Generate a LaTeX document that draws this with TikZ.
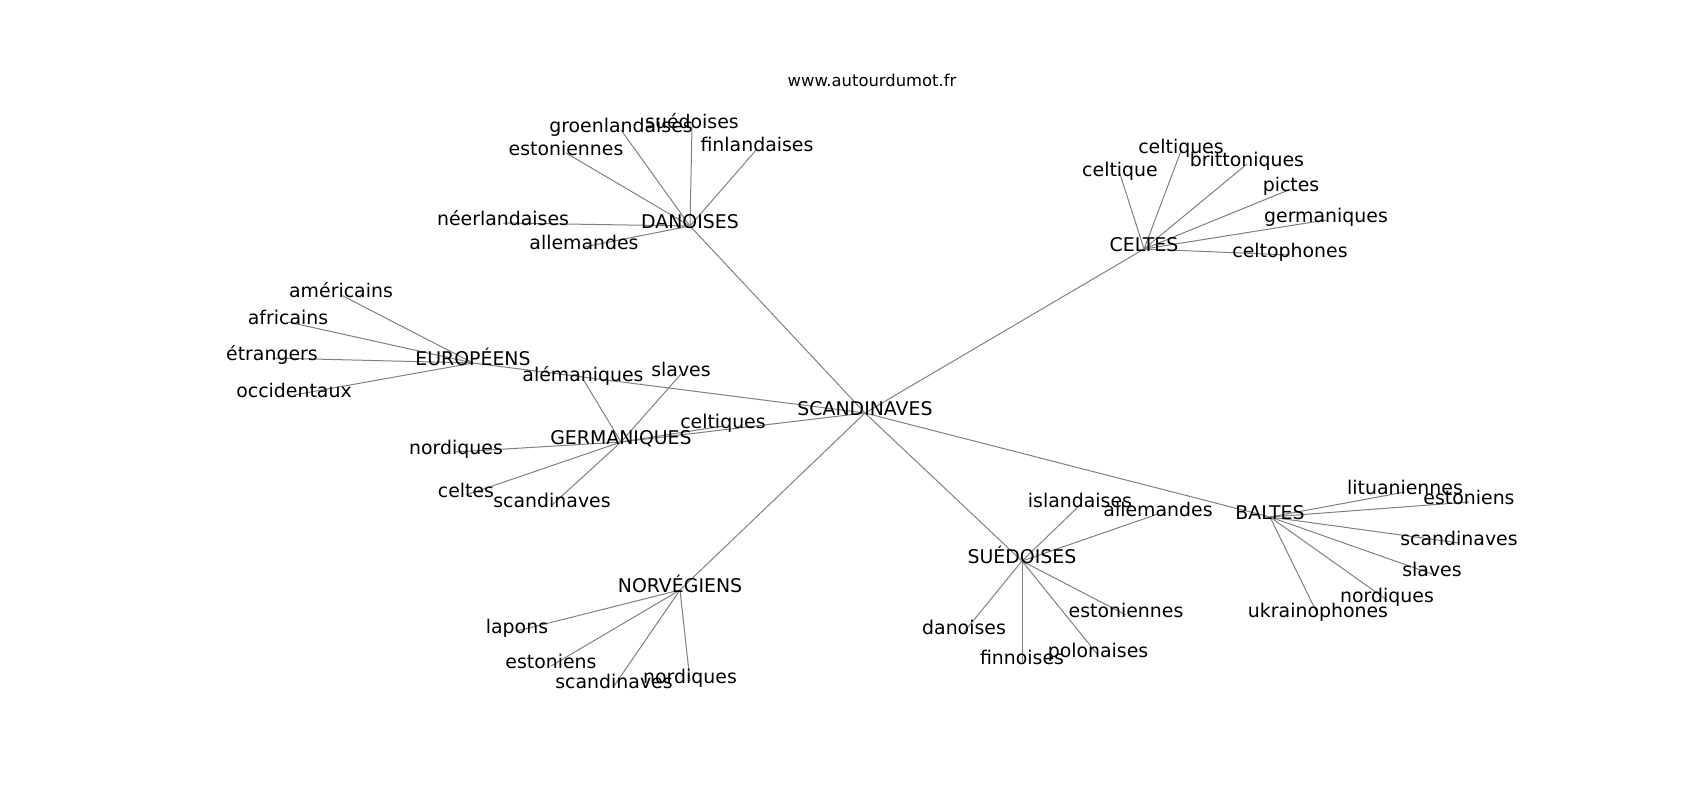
\documentclass[tikz,border=0pt]{standalone}
\usepackage{fontspec}
\setmainfont{DejaVu Sans}
\usetikzlibrary{backgrounds}

\begin{document}
\begin{tikzpicture}[x=1pt, y=-1pt,
    every node/.style={font=\fontsize{18.9}{22}\selectfont, inner sep=0pt, text height=0.47em, text depth=0pt},
    edge/.style={draw=black!50, line width=1pt}]
    \useasboundingbox (0,0) rectangle (1700,800);

    % Title
    \node[font=\fontsize{16.4}{20}\selectfont, text height=0.73em] (title) at (872,83) {www.autourdumot.fr};

    \begin{scope}[shift={(0,2)}]
    % Centre
    \node (scan) at (865,411) {SCANDINAVES};

    % Danoises
    \node (dan) at (690,224) {DANOISES};
    \node (groen) at (621,128) {groenlandaises};
    \node (suedD) at (692,124) {suédoises};
    \node (finl) at (757,147) {finlandaises};
    \node (estD) at (566,151) {estoniennes};
    \node (neer) at (503,221) {néerlandaises};
    \node (allD) at (584,245) {allemandes};

    % Celtes
    \node (celt) at (1144,247) {CELTES};
    \node (celtqs) at (1181,149) {celtiques};
    \node (britt) at (1247,162) {brittoniques};
    \node (celtq) at (1120,172) {celtique};
    \node (pict) at (1291,187) {pictes};
    \node (germC) at (1326,218) {germaniques};
    \node (celtph) at (1290,253) {celtophones};

    % Europeens
    \node (euro) at (473,361) {EUROPÉENS};
    \node (amer) at (341,293) {américains};
    \node (afri) at (288,320) {africains};
    \node (etr) at (272,356) {étrangers};
    \node (occ) at (294,393) {occidentaux};

    % Germaniques
    \node (germ) at (621,440) {GERMANIQUES};
    \node (alem) at (583,377) {alémaniques};
    \node (slavG) at (681,372) {slaves};
    \node (celtG) at (723,424) {celtiques};
    \node (nordG) at (456,450) {nordiques};
    \node (celtsG) at (466,493) {celtes};
    \node (scanG) at (552,503) {scandinaves};

    % Norvegiens
    \node (norv) at (680,588) {NORVÉGIENS};
    \node (lap) at (517,629) {lapons};
    \node (estN) at (551,664) {estoniens};
    \node (scanN) at (614,684) {scandinaves};
    \node (nordN) at (690,679) {nordiques};

    % Suedoises
    \node (sued) at (1022,559) {SUÉDOISES};
    \node (isl) at (1080,503) {islandaises};
    \node (allS) at (1158,512) {allemandes};
    \node (estS) at (1126,613) {estoniennes};
    \node (danS) at (964,630) {danoises};
    \node (pol) at (1098,653) {polonaises};
    \node (finn) at (1022,660) {finnoises};

    % Baltes
    \node (balt) at (1270,515) {BALTES};
    \node (litu) at (1405,490) {lituaniennes};
    \node (estB) at (1469,500) {estoniens};
    \node (scanB) at (1459,541) {scandinaves};
    \node (slavB) at (1432,572) {slaves};
    \node (nordB) at (1387,598) {nordiques};
    \node (ukr) at (1318,613) {ukrainophones};
    \end{scope}

    % Edges
    \begin{scope}[on background layer]
    \foreach \a/\b in {scan/dan, scan/celt, scan/euro, scan/germ, scan/norv, scan/sued, scan/balt,
        dan/groen, dan/suedD, dan/finl, dan/estD, dan/neer, dan/allD,
        celt/celtqs, celt/britt, celt/celtq, celt/pict, celt/germC, celt/celtph,
        euro/amer, euro/afri, euro/etr, euro/occ,
        germ/alem, germ/slavG, germ/celtG, germ/nordG, germ/celtsG, germ/scanG,
        norv/lap, norv/estN, norv/scanN, norv/nordN,
        sued/isl, sued/allS, sued/estS, sued/danS, sued/pol, sued/finn,
        balt/litu, balt/estB, balt/scanB, balt/slavB, balt/nordB, balt/ukr}
        \draw[edge] (\a.center) -- (\b.center);
    \end{scope}
\end{tikzpicture}
\end{document}
